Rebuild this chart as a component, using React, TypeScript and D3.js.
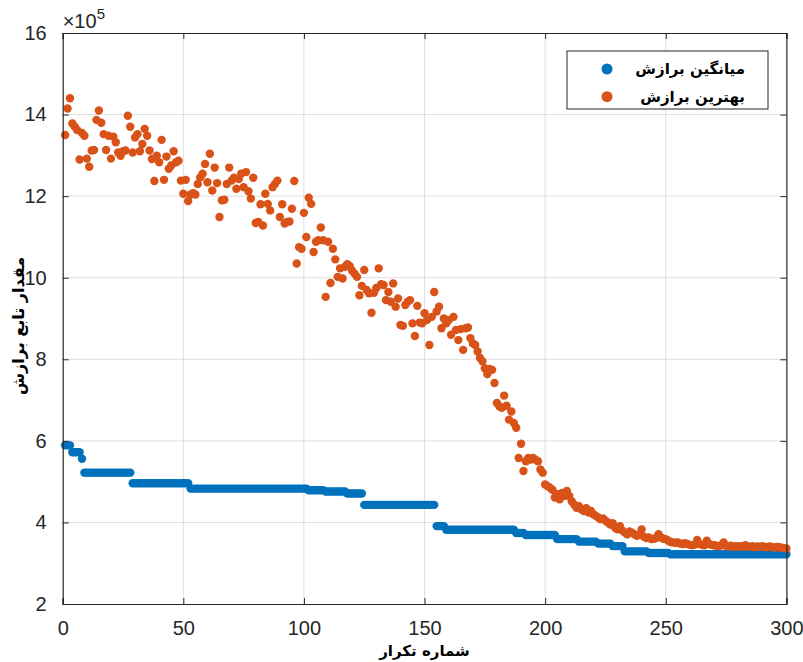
import React, { useEffect, useRef } from 'react';
import * as d3 from 'd3';

// iteration 1..300, fitness values in units of 10^5
const meanFitness = [
    5.89, 5.89, 5.89, 5.72, 5.72, 5.72, 5.72, 5.56, 5.22, 5.22,
    5.22, 5.22, 5.22, 5.22, 5.22, 5.22, 5.22, 5.22, 5.22, 5.22,
    5.22, 5.22, 5.22, 5.22, 5.22, 5.22, 5.22, 5.22, 4.96, 4.96,
    4.96, 4.96, 4.96, 4.96, 4.96, 4.96, 4.96, 4.96, 4.96, 4.96,
    4.96, 4.96, 4.96, 4.96, 4.96, 4.96, 4.96, 4.96, 4.96, 4.96,
    4.96, 4.96, 4.83, 4.83, 4.83, 4.83, 4.83, 4.83, 4.83, 4.83,
    4.83, 4.83, 4.83, 4.83, 4.83, 4.83, 4.83, 4.83, 4.83, 4.83,
    4.83, 4.83, 4.83, 4.83, 4.83, 4.83, 4.83, 4.83, 4.83, 4.83,
    4.83, 4.83, 4.83, 4.83, 4.83, 4.83, 4.83, 4.83, 4.83, 4.83,
    4.83, 4.83, 4.83, 4.83, 4.83, 4.83, 4.83, 4.83, 4.83, 4.83,
    4.83, 4.79, 4.79, 4.79, 4.79, 4.79, 4.79, 4.79, 4.76, 4.76,
    4.76, 4.76, 4.76, 4.76, 4.76, 4.76, 4.76, 4.71, 4.71, 4.71,
    4.71, 4.71, 4.71, 4.71, 4.43, 4.43, 4.43, 4.43, 4.43, 4.43,
    4.43, 4.43, 4.43, 4.43, 4.43, 4.43, 4.43, 4.43, 4.43, 4.43,
    4.43, 4.43, 4.43, 4.43, 4.43, 4.43, 4.43, 4.43, 4.43, 4.43,
    4.43, 4.43, 4.43, 4.43, 3.91, 3.91, 3.91, 3.91, 3.82, 3.82,
    3.82, 3.82, 3.82, 3.82, 3.82, 3.82, 3.82, 3.82, 3.82, 3.82,
    3.82, 3.82, 3.82, 3.82, 3.82, 3.82, 3.82, 3.82, 3.82, 3.82,
    3.82, 3.82, 3.82, 3.82, 3.82, 3.82, 3.82, 3.74, 3.74, 3.74,
    3.74, 3.69, 3.69, 3.69, 3.69, 3.69, 3.69, 3.69, 3.69, 3.69,
    3.69, 3.69, 3.69, 3.69, 3.59, 3.59, 3.59, 3.59, 3.59, 3.59,
    3.59, 3.59, 3.59, 3.53, 3.53, 3.53, 3.53, 3.53, 3.53, 3.53,
    3.53, 3.48, 3.48, 3.48, 3.48, 3.48, 3.48, 3.42, 3.42, 3.42,
    3.42, 3.42, 3.29, 3.29, 3.29, 3.29, 3.29, 3.29, 3.29, 3.29,
    3.29, 3.29, 3.25, 3.25, 3.25, 3.25, 3.25, 3.25, 3.25, 3.25,
    3.25, 3.22, 3.22, 3.22, 3.22, 3.22, 3.22, 3.22, 3.22, 3.22,
    3.22, 3.22, 3.22, 3.22, 3.22, 3.22, 3.22, 3.22, 3.22, 3.22,
    3.22, 3.22, 3.22, 3.22, 3.22, 3.22, 3.22, 3.22, 3.22, 3.22,
    3.22, 3.22, 3.22, 3.22, 3.22, 3.22, 3.22, 3.22, 3.22, 3.22,
    3.22, 3.22, 3.22, 3.22, 3.22, 3.22, 3.22, 3.22, 3.22, 3.22,
];

const bestFitness = [
    13.50, 14.15, 14.40, 13.78, 13.70, 13.62, 12.90, 13.55, 13.48, 12.92,
    12.72, 13.12, 13.13, 13.87, 14.10, 13.80, 13.52, 13.13, 13.48, 12.92,
    13.46, 13.32, 13.07, 12.99, 13.10, 13.12, 13.97, 13.70, 13.07, 13.44,
    13.52, 13.10, 13.28, 13.65, 13.48, 13.12, 12.91, 12.37, 12.99, 12.83,
    13.38, 12.40, 12.97, 12.67, 12.75, 13.10, 12.83, 12.87, 12.38, 12.06,
    12.40, 11.88, 12.04, 12.07, 12.04, 12.30, 12.46, 12.55, 12.79, 12.34,
    13.04, 12.14, 12.70, 12.32, 11.49, 11.90, 11.91, 12.30, 12.70, 12.38,
    12.45, 12.18, 12.42, 12.55, 12.22, 12.59, 12.12, 11.94, 12.45, 11.34,
    11.37, 11.80, 11.28, 12.06, 11.81, 11.65, 12.22, 12.30, 12.38, 11.49,
    11.80, 11.33, 11.37, 11.38, 11.69, 12.37, 10.35, 10.75, 10.71, 11.59,
    11.00, 11.96, 11.81, 10.63, 10.88, 10.92, 11.23, 10.92, 9.53, 10.88,
    9.87, 10.71, 10.45, 10.02, 10.23, 9.98, 10.27, 10.33, 10.28, 10.17,
    10.10, 10.02, 9.57, 9.80, 10.19, 9.70, 9.62, 9.14, 9.63, 9.75,
    10.23, 9.84, 9.82, 9.45, 9.65, 9.41, 9.86, 9.29, 9.49, 8.84,
    8.82, 9.33, 9.41, 9.45, 8.88, 8.57, 9.31, 8.90, 8.88, 9.13,
    8.96, 8.35, 9.04, 9.65, 9.17, 9.29, 8.76, 9.00, 8.88, 8.96,
    8.60, 9.04, 8.72, 8.47, 8.74, 8.23, 8.76, 8.78, 8.52, 8.39,
    8.35, 8.19, 8.03, 7.95, 7.78, 7.64, 7.76, 7.74, 7.42, 6.93,
    6.85, 6.81, 7.11, 6.86, 6.52, 6.72, 6.44, 6.32, 5.58, 5.93,
    5.26, 5.50, 5.58, 5.54, 5.58, 5.54, 5.50, 5.30, 5.22, 4.93,
    4.89, 4.85, 4.80, 4.61, 4.70, 4.57, 4.72, 4.65, 4.77, 4.65,
    4.52, 4.44, 4.36, 4.40, 4.32, 4.28, 4.35, 4.24, 4.28, 4.20,
    4.16, 4.12, 4.08, 4.10, 4.04, 4.00, 3.95, 3.98, 3.87, 3.83,
    3.91, 3.80, 3.75, 3.71, 3.78, 3.75, 3.71, 3.67, 3.70, 3.83,
    3.65, 3.62, 3.63, 3.59, 3.60, 3.62, 3.71, 3.63, 3.60, 3.59,
    3.55, 3.52, 3.51, 3.50, 3.51, 3.48, 3.47, 3.49, 3.47, 3.45,
    3.44, 3.46, 3.57, 3.47, 3.45, 3.44, 3.55, 3.47, 3.45, 3.44,
    3.43, 3.42, 3.44, 3.51, 3.42, 3.41, 3.43, 3.40, 3.42, 3.41,
    3.42, 3.40, 3.44, 3.41, 3.40, 3.42, 3.39, 3.41, 3.40, 3.42,
    3.40, 3.39, 3.41, 3.40, 3.38, 3.40, 3.39, 3.38, 3.37, 3.36,
];

const xTicks = [0, 50, 100, 150, 200, 250, 300];
const yTicks = [2, 4, 6, 8, 10, 12, 14, 16];

const seriesNames = ['میانگین برازش', 'بهترین برازش'];
const seriesColors = ['#0072BD', '#D95319'];
const xLabel = 'شماره تکرار';
const yLabel = 'مقدار تابع برازش';

const ScatterChart = () => {
    const svgRef = useRef(null);

    useEffect(() => {
        const svg = d3.select(svgRef.current);
        svg.selectAll('*').remove();

        const width = 803;
        const height = 662;
        const margin = { top: 33, right: 16.6, bottom: 58, left: 62.7 };
        const innerW = width - margin.left - margin.right;
        const innerH = height - margin.top - margin.bottom;
        const axisColor = '#262626';
        const numFont = '"Liberation Sans", Arial, sans-serif';
        const faFont = '"DejaVu Sans", sans-serif';

        svg.attr('width', width).attr('height', height);
        svg.append('rect').attr('width', width).attr('height', height).attr('fill', '#ffffff');

        const chart = svg.append('g')
            .attr('transform', `translate(${margin.left},${margin.top})`);

        const xScale = d3.scaleLinear().domain([0, 300]).range([0, innerW]);
        const yScale = d3.scaleLinear().domain([2, 16]).range([innerH, 0]);

        // grid
        chart.append('g')
            .selectAll('line')
            .data(xTicks.slice(1, -1))
            .join('line')
            .attr('x1', (d) => xScale(d)).attr('x2', (d) => xScale(d))
            .attr('y1', 0).attr('y2', innerH)
            .attr('stroke', '#dfdfdf').attr('stroke-width', 1);
        chart.append('g')
            .selectAll('line')
            .data(yTicks.slice(1, -1))
            .join('line')
            .attr('y1', (d) => yScale(d)).attr('y2', (d) => yScale(d))
            .attr('x1', 0).attr('x2', innerW)
            .attr('stroke', '#dfdfdf').attr('stroke-width', 1);

        // points
        const series = [meanFitness, bestFitness];
        series.forEach((values, si) => {
            chart.append('g')
                .selectAll('circle')
                .data(values)
                .join('circle')
                .attr('cx', (d, i) => xScale(i + 1))
                .attr('cy', (d) => yScale(d))
                .attr('r', 4.2)
                .attr('fill', seriesColors[si]);
        });

        // axes, box style with ticks inside
        const tickLen = 6;
        const xAxisBottom = d3.axisBottom(xScale).tickValues(xTicks).tickSize(-tickLen).tickPadding(17);
        const xAxisTop = d3.axisTop(xScale).tickValues(xTicks).tickSize(-tickLen).tickFormat(() => '');
        const yAxisLeft = d3.axisLeft(yScale).tickValues(yTicks).tickSize(-tickLen).tickPadding(16);
        const yAxisRight = d3.axisRight(yScale).tickValues(yTicks).tickSize(-tickLen).tickFormat(() => '');

        const styleAxis = (g) => {
            g.select('.domain').attr('stroke', axisColor).attr('stroke-width', 1.2);
            g.selectAll('.tick line').attr('stroke', axisColor);
            g.selectAll('.tick text')
                .attr('fill', axisColor)
                .style('font-family', numFont)
                .style('font-size', '20px');
        };

        chart.append('g').attr('transform', `translate(0,${innerH})`).call(xAxisBottom).call(styleAxis);
        chart.append('g').call(xAxisTop).call(styleAxis);
        chart.append('g').call(yAxisLeft).call(styleAxis);
        chart.append('g').attr('transform', `translate(${innerW},0)`).call(yAxisRight).call(styleAxis);

        // exponent label
        const expo = svg.append('text')
            .attr('x', margin.left)
            .attr('y', 28)
            .attr('fill', axisColor)
            .style('font-family', numFont)
            .style('font-size', '20px');
        expo.append('tspan').text('×10');
        expo.append('tspan').attr('dy', -9).style('font-size', '15px').text('5');

        // axis labels
        svg.append('text')
            .attr('x', margin.left + innerW / 2)
            .attr('y', 656)
            .attr('text-anchor', 'middle')
            .attr('fill', '#000')
            .style('font-family', faFont)
            .style('font-weight', 'bold')
            .style('font-size', '15px')
            .text(xLabel);

        svg.append('text')
            .attr('transform', `translate(24,326) rotate(-90)`)
            .attr('text-anchor', 'middle')
            .attr('fill', '#000')
            .style('font-family', faFont)
            .style('font-weight', 'bold')
            .style('font-size', '16px')
            .text(yLabel);

        // legend
        const legend = svg.append('g').attr('transform', 'translate(567,51)');
        legend.append('rect')
            .attr('width', 201).attr('height', 58)
            .attr('fill', '#ffffff')
            .attr('stroke', '#262626').attr('stroke-width', 1);
        seriesNames.forEach((name, i) => {
            legend.append('circle')
                .attr('cx', 40).attr('cy', 18 + i * 27.7)
                .attr('r', 5.5)
                .attr('fill', seriesColors[i]);
            legend.append('text')
                .attr('x', 178).attr('y', 18 + i * 27.7)
                .attr('dy', '0.35em')
                .attr('text-anchor', 'end')
                .attr('fill', '#000')
                .style('font-family', faFont)
                .style('font-weight', 'bold')
                .style('font-size', '15px')
                .text(name);
        });
    }, []);

    return (
        <svg ref={svgRef} style={{ position: 'absolute', left: 0, top: 0, display: 'block' }} />
    );
};

export default function App() {
    return <ScatterChart />;
}
